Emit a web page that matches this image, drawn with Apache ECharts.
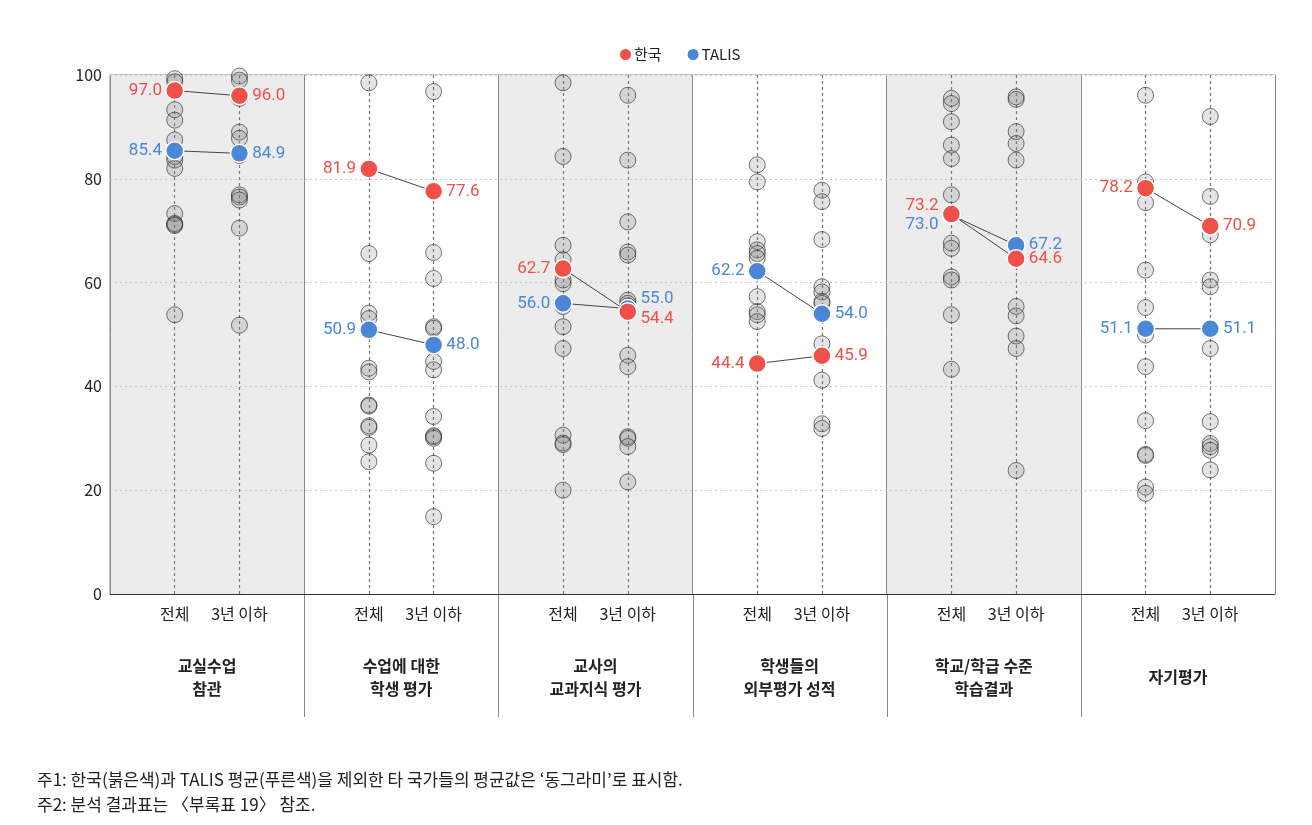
<!DOCTYPE html>
<html><head><meta charset="utf-8">
<script src="https://cdn.jsdelivr.net/npm/echarts@6/dist/echarts.min.js"></script>
<style>html,body{margin:0;padding:0;background:#fff}#c{width:1312px;height:825px}</style>
</head><body><div id="c"></div>
<script>
const groups = ['교실수업\n참관','수업에 대한\n학생 평가','교사의\n교과지식 평가','학생들의\n외부평가 성적','학교/학급 수준\n학습결과','자기평가'];
const subCats = ['전체','3년 이하'];
const korea = [[97.0,96.0],[81.9,77.6],[62.7,54.4],[44.4,45.9],[73.2,64.6],[78.2,70.9]];
const talis = [[85.4,84.9],[50.9,48.0],[56.0,55.0],[62.2,54.0],[73.0,67.2],[51.1,51.1]];
const othersTotal = [
  [99.3,98.7,93.3,91.3,87.5,84.3,83.6,82.0,73.3,71.4,71.2,71.0,53.8],
  [98.5,65.6,54.1,53.1,43.5,42.8,36.4,36.2,32.4,32.1,28.7,25.5],
  [98.5,84.3,67.2,64.4,60.5,59.8,55.4,51.5,47.3,30.6,29.1,28.8,20.0],
  [82.7,79.4,67.9,66.3,65.6,64.7,57.3,54.4,53.8,52.5],
  [95.5,94.5,91.0,86.5,83.9,76.9,67.6,66.6,61.1,60.5,53.8,43.3],
  [96.1,79.4,75.4,62.4,55.2,49.9,43.8,33.4,26.9,26.7,20.6,19.4]
];
const othersNew = [
  [99.8,99.0,96.2,95.5,89.0,87.8,84.5,76.9,76.5,75.9,70.5,51.8],
  [96.8,65.8,60.8,51.5,51.2,44.8,43.2,34.2,30.5,30.3,30.0,25.2,14.9],
  [96.1,83.6,71.7,65.9,65.3,56.6,56.0,55.5,46.0,43.8,30.3,30.0,28.4,21.6],
  [77.8,75.6,68.3,59.2,58.2,56.4,56.0,48.2,41.2,32.8,31.9],
  [95.8,95.3,89.1,86.8,83.6,55.4,53.6,49.7,47.3,23.8],
  [92.0,76.6,69.2,60.5,59.2,47.3,33.2,29.0,28.4,27.7,23.9]
];
const yTicks = [0,20,40,60,80,100];
const notes = ['주1: 한국(붉은색)과 TALIS 평균(푸른색)을 제외한 타 국가들의 평균값은 ‘동그라미’로 표시함.','주2: 분석 결과표는 〈부록표 19〉 참조.'];

const RED = '#ef504a', BLUE = '#4a87d6';
const FONT = '"Noto Sans CJK KR","Noto Sans",sans-serif';
const NUMFONT = 'Roboto,"Noto Sans",sans-serif';
const chart = echarts.init(document.getElementById('c'));

const otherData = [];
othersTotal.forEach((arr,i)=>arr.forEach(v=>otherData.push([3*i+1,v])));
othersNew.forEach((arr,i)=>arr.forEach(v=>otherData.push([3*i+2,v])));
const colLines = [];
for (let i=0;i<groups.length;i++){ colLines.push({xAxis:3*i+1}); colLines.push({xAxis:3*i+2}); }

// label offset tweaks (style) for overlapping labels
const labelOff = {
  '한국': {'4-0':[0,-8],'2-1':[0,7]},
  'TALIS': {'4-0':[0,10],'2-1':[0,-10]}
};
function pairSeries(name, vals, color, z){
  return vals.map((pair,i)=>({
    name, type:'line', z, xAxisIndex:0,
    symbol:'circle', symbolSize:18,
    itemStyle:{color, borderColor:'#fff', borderWidth:1.5},
    lineStyle:{color:'#444', width:1},
    emphasis:{disabled:true},
    data: pair.map((v,j)=>({
      value:[3*i+1+j, v],
      label:{show:true, position: j===0?'left':'right', distance:3,
        offset: (labelOff[name][i+'-'+j]||[0,0]),
        formatter: p=>p.value[1].toFixed(1),
        color, fontSize:17, fontFamily:NUMFONT}
    }))
  }));
}

const option = {
  animation:false,
  textStyle:{fontFamily:FONT},
  legend:{top:42, left:613, itemWidth:13, itemHeight:13, itemGap:24, icon:'circle',
    textStyle:{fontSize:15, color:'#222', fontFamily:FONT, padding:[0,0,0,-3]},
    data:[{name:'한국', itemStyle:{color:RED}},{name:'TALIS', itemStyle:{color:BLUE}}]},
  grid:{left:110, right:37, top:75, bottom:231, show:true, borderColor:'#8a8a8a', borderWidth:1},
  xAxis:[
    {type:'value', min:0, max:groups.length*3, interval:1, z:2,
      axisLine:{show:true, onZero:false, lineStyle:{color:'#333', width:1.2}},
      axisTick:{show:false}, splitLine:{show:false},
      axisLabel:{fontSize:16, color:'#222', margin:12, fontFamily:FONT,
        formatter:v=>{const m=Math.round(v)%3; return m===0?'':subCats[m-1];}}},
    {type:'category', data:groups, position:'bottom', z:0,
      axisLine:{show:false}, axisTick:{show:false},
      splitLine:{show:true, lineStyle:{color:'#8a8a8a', width:1}},
      splitArea:{show:true, areaStyle:{color:['#ececec','#ffffff']}},
      axisLabel:{fontSize:16, fontWeight:'bold', color:'#222', lineHeight:23, margin:83,
        verticalAlign:'middle', interval:0, fontFamily:FONT}}
  ],
  yAxis:{type:'value', min:0, max:100, interval:20, z:1,
    axisLine:{show:false}, axisTick:{show:false},
    axisLabel:{fontSize:16, color:'#222', margin:8, fontFamily:FONT},
    splitLine:{show:true, lineStyle:{color:'#c8c8c8', type:[2,3], width:1}}},
  series:[
    {name:'others', type:'scatter', z:3, symbolSize:16, silent:true,
      itemStyle:{color:'rgba(120,120,120,0.25)', borderColor:'rgba(40,40,40,0.8)', borderWidth:1},
      markLine:{silent:true, symbol:'none', label:{show:false},
        lineStyle:{color:'#777', type:[3,3], width:1.2}, data:colLines, z:2},
      data:otherData},
    ...pairSeries('TALIS', talis, BLUE, 4),
    ...pairSeries('한국', korea, RED, 5)
  ]
};
chart.setOption(option);

const y0 = chart.convertToPixel({yAxisIndex:0}, 0);
const g = [];
for (let i=1;i<groups.length;i++){
  const px = Math.round(chart.convertToPixel({xAxisIndex:0}, 3*i))+0.5;
  g.push({type:'line', shape:{x1:px,y1:y0,x2:px,y2:y0+123}, style:{stroke:'#8a8a8a', lineWidth:1}});
}
notes.forEach((t,i)=>g.push({type:'text', left:37, top:771+25*i,
  style:{text:t, fill:'#222', font:'17px '+FONT}}));
chart.setOption({graphic:g});
</script></body></html>
